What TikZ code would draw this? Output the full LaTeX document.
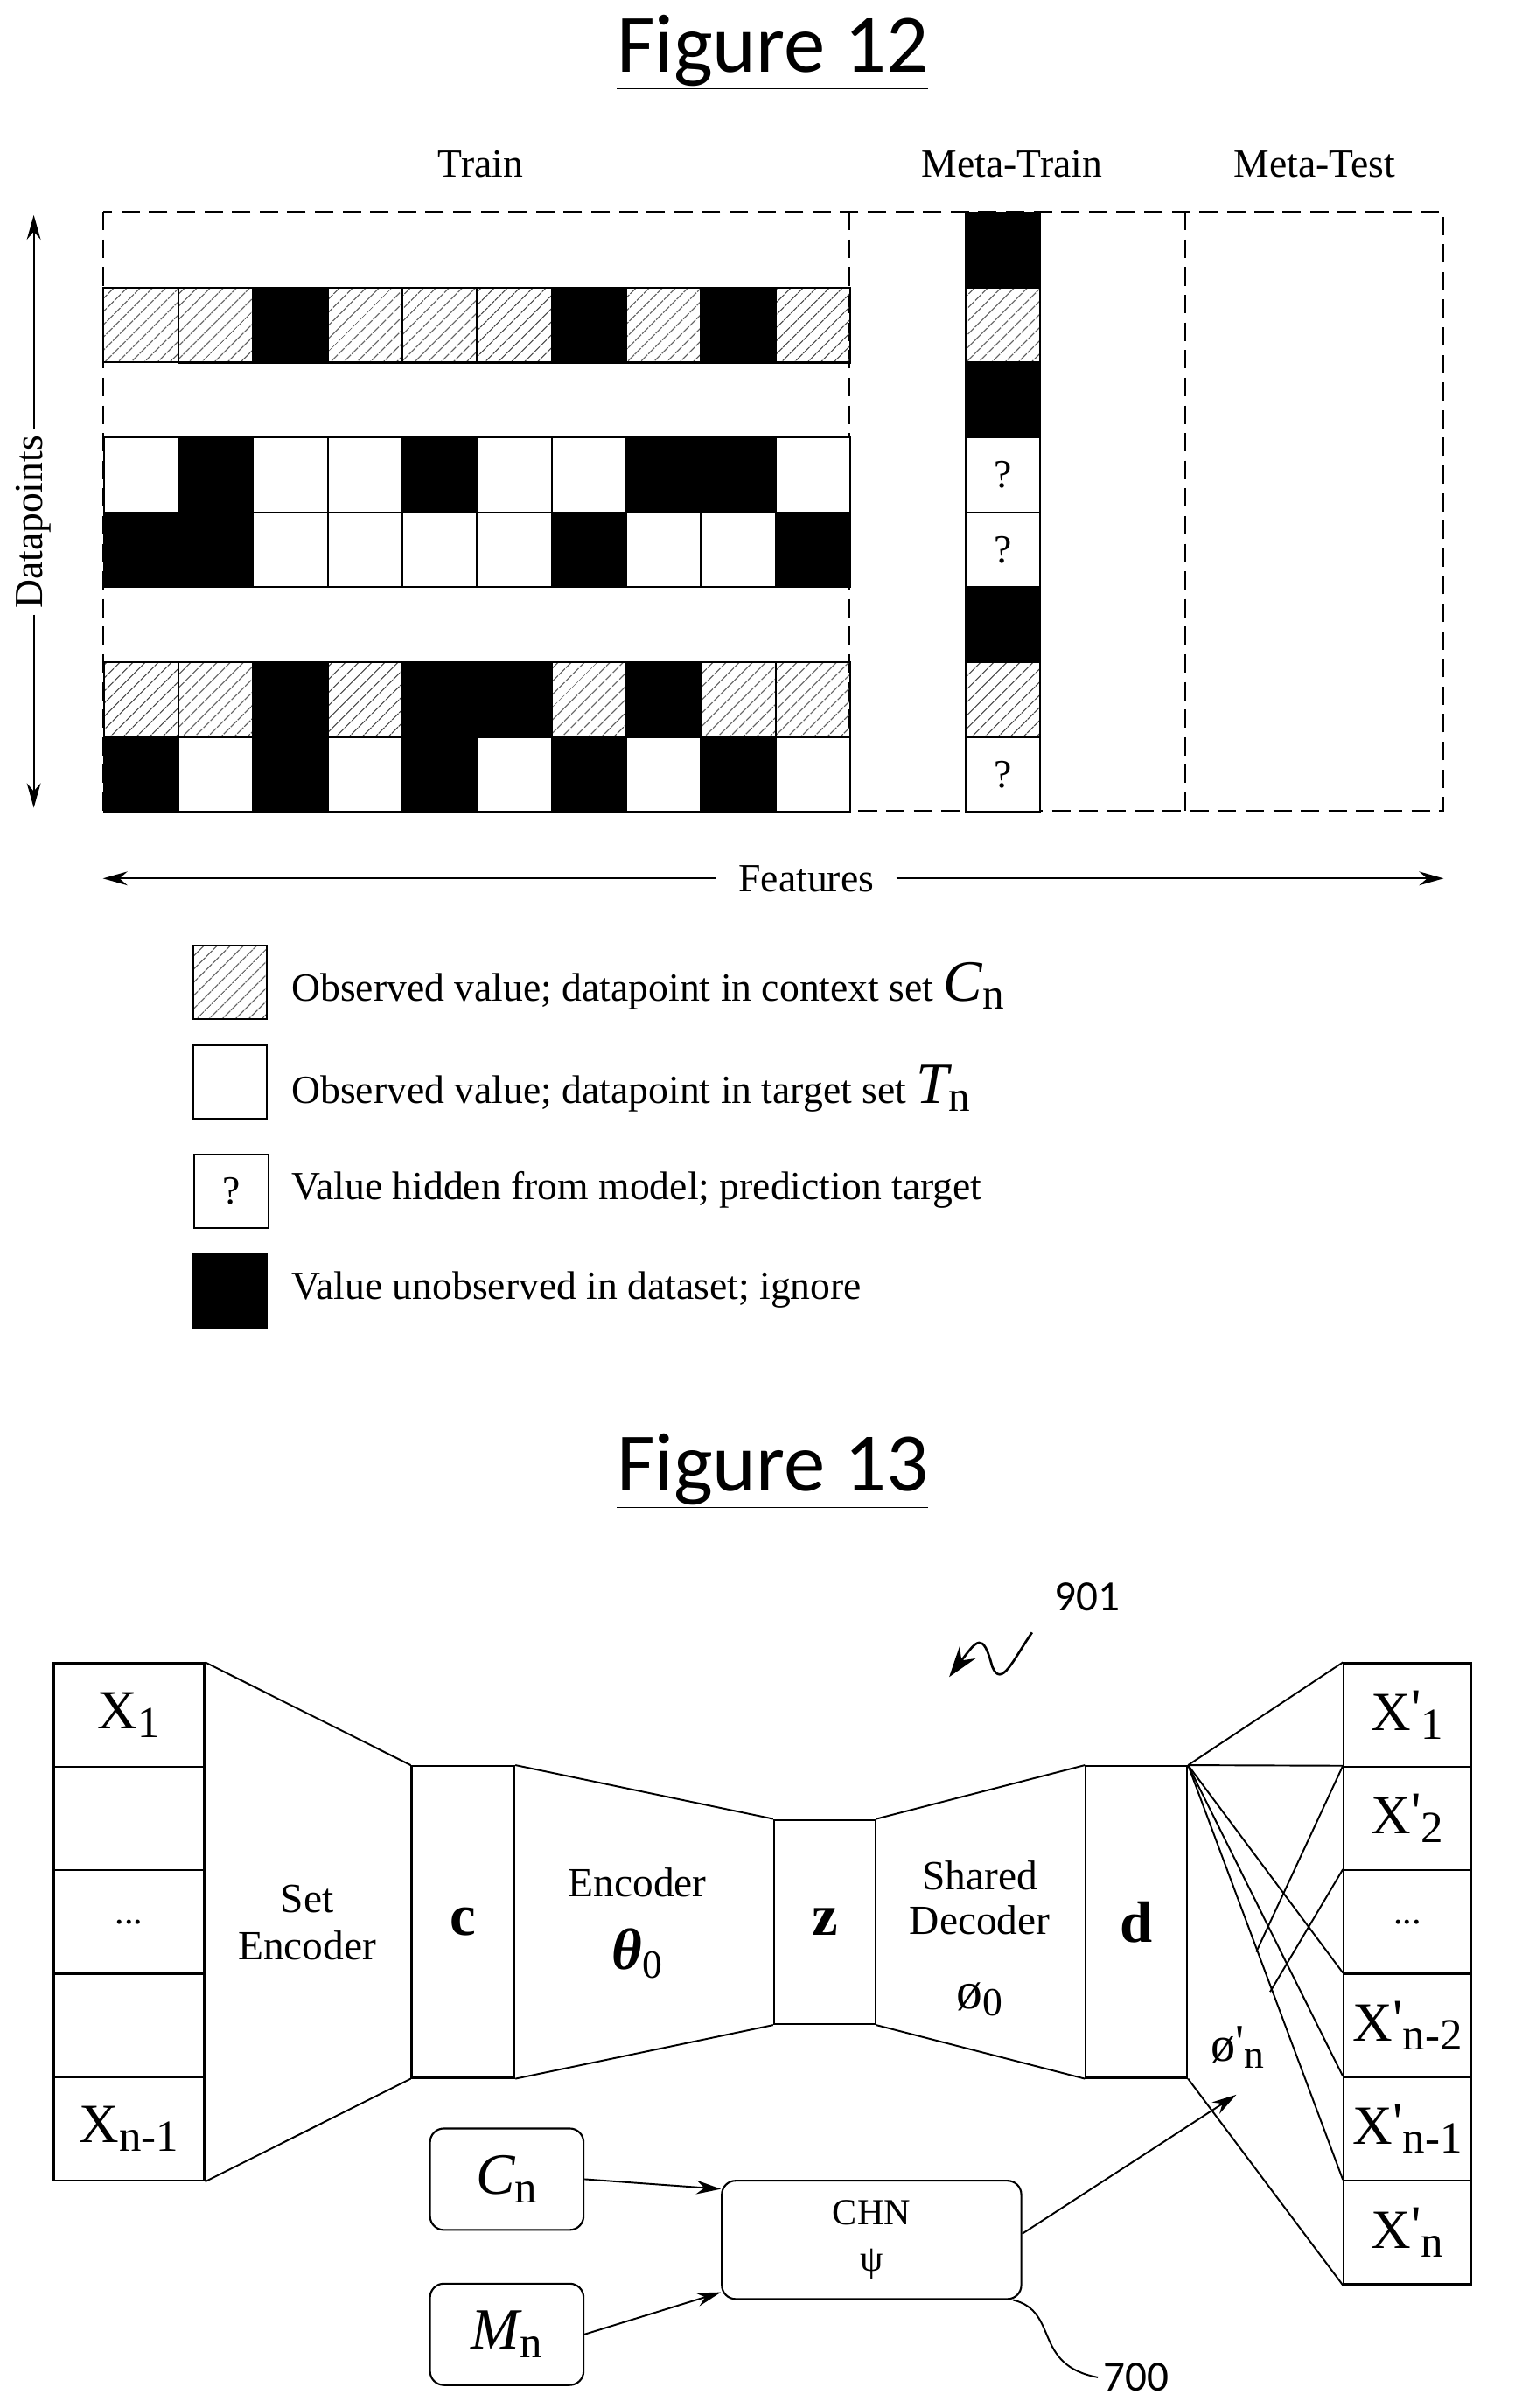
\documentclass[tikz,border=0pt]{standalone}
\usepackage{fontspec}
\setmainfont{Liberation Serif}
\newfontfamily\calib{Carlito}
\usetikzlibrary{patterns.meta,arrows.meta}

\newcommand{\fsz}[1]{\fontsize{#1}{#1}\selectfont}
\newcommand{\lowsub}[1]{\raisebox{-0.35ex}{\fsz{29}#1}}
\newcommand{\pr}{\raisebox{0.15ex}{\textquotesingle}}

\tikzset{
  cell/.style={draw,line width=1.2pt,minimum width=48.6pt,minimum height=48.75pt,inner sep=0pt,anchor=north west,font=\fsz{26}},
  cell h/.style={cell,pattern={Lines[angle=45,distance=6.5pt,line width=0.8pt]},pattern color=black!70},
  cell b/.style={cell,fill=black},
  cell w/.style={cell,fill=white},
  cell q/.style={cell,fill=white},
  lbl/.style={font=\fsz{26}},
  blk/.style={draw,line width=1.2pt,inner sep=0pt},
  xbox/.style={blk,minimum width=98pt,minimum height=67.4pt,font=\fsz{36}},
  ybox/.style={blk,minimum width=83pt,minimum height=67.4pt,font=\fsz{36}},
  rbox/.style={blk,rounded corners=9pt},
  arr/.style={-{Stealth[length=16pt,width=9pt]},line width=1.1pt},
}

\begin{document}
\begin{tikzpicture}[x=1pt,y=-1pt,line width=1.1pt]
\useasboundingbox (0,0) rectangle (1000,1568);

% Figure 12
\node[font=\calib\fsz{54}] (t12) at (503,34) {\underline{Figure 12}};
\node[lbl] (ltrain) at (313,107) {Train};
\node[lbl] (lmtrain) at (659,107) {Meta-Train};
\node[lbl] (lmtest) at (856,107) {Meta-Test};

\draw[dashed,dash pattern=on 12pt off 6pt,line width=1.1pt] (67,138) rectangle (940,528);
\draw[dashed,dash pattern=on 12pt off 6pt,line width=1.1pt] (553,138) -- (553,528);
\draw[dashed,dash pattern=on 12pt off 6pt,line width=1.1pt] (772,138) -- (772,528);

\foreach \t [count=\i from 0] in {h,h,b,h,h,h,b,h,b,h}
  \node[cell \t] (a\i) at (67+48.6*\i,186.75) {};
\foreach \t [count=\i from 0] in {w,b,w,w,b,w,w,b,b,w}
  \node[cell \t] (b\i) at (67+48.6*\i,284.25) {};
\foreach \t [count=\i from 0] in {b,b,w,w,w,w,b,w,w,b}
  \node[cell \t] (c\i) at (67+48.6*\i,333) {};
\foreach \t [count=\i from 0] in {h,h,b,h,b,b,h,b,h,h}
  \node[cell \t] (d\i) at (67+48.6*\i,430.5) {};
\foreach \t [count=\i from 0] in {b,w,b,w,b,w,b,w,b,w}
  \node[cell \t] (e\i) at (67+48.6*\i,479.25) {};
% meta-train column
\foreach \t [count=\i from 0] in {b,h,b,q,q,b,h,q}
  \node[cell \t] (m\i) at (628,138+48.75*\i) {\if\t q?\fi};

% axes
\node[lbl,rotate=90,fill=white] (dp) at (22,340) {Datapoints};
\coordinate (dptop) at (22,140);
\coordinate (dpbot) at (22,526);
\draw[arr] (dp.east) -- (dptop);
\draw[arr] (dp.west) -- (dpbot);
\node[lbl,inner xsep=14pt] (feat) at (525,572) {Features};
\coordinate (fleft) at (67,572);
\coordinate (fright) at (940,572);
\draw[arr] (feat.west) -- (fleft);
\draw[arr] (feat.east) -- (fright);

% legend
\node[cell h,minimum width=48pt,minimum height=48pt] (lg1) at (125,615) {};
\node[cell w,minimum width=48pt,minimum height=48pt] (lg2) at (125,680) {};
\node[cell q,minimum width=48pt,minimum height=48pt] (lg3) at (126,751) {?};
\node[cell b,minimum width=48pt,minimum height=48pt] (lg4) at (125,816) {};
\node[lbl,anchor=west] (tx1) at (186,642) {Observed value; datapoint in context set \fsz{38}\itshape C\raisebox{-0.3ex}{\fsz{28}\upshape n}};
\node[lbl,anchor=west] (tx2) at (186,709) {Observed value; datapoint in target set \fsz{38}\itshape T\raisebox{-0.3ex}{\fsz{28}\upshape n}};
\node[lbl,anchor=west] (tx3) at (186,775) {Value hidden from model; prediction target};
\node[lbl,anchor=west] (tx4) at (186,840) {Value unobserved in dataset; ignore};

% Figure 13
\node[font=\calib\fsz{54}] (t13) at (503,958) {\underline{Figure 13}};
\node[font=\calib\fsz{28}] (n901) at (708,1040) {901};
\coordinate (s901) at (672,1063);
\coordinate (e901) at (618,1092);
\draw[-{Stealth[length=20pt,width=13pt]},line width=1.5pt] (s901) .. controls (660,1080) and (652,1100) .. (646,1085)
  .. controls (640,1062) and (636,1068) .. (e901);

\foreach \k/\txt in {1/X\lowsub{1},2/,3/{\fsz{24}...},4/,5/X\lowsub{n-1}}
  \node[xbox] (L\k) at (84,1083+33.7+67.4*\k-67.4) {\txt};
\foreach \k/\txt in {1/X\pr\lowsub{1},2/X\pr\lowsub{2},3/{\fsz{24}...},4/X\pr\lowsub{n-2},5/X\pr\lowsub{n-1},6/X\pr\lowsub{n}}
  \node[ybox] (R\k) at (916.5,1083+33.7+67.4*\k-67.4) {\txt};

\node[blk,minimum width=67pt,minimum height=203pt,font=\bfseries\fsz{38}] (c) at (301.5,1251.5) {c};
\node[blk,minimum width=66pt,minimum height=133pt,font=\bfseries\fsz{38}] (z) at (537,1251.5) {z};
\node[blk,minimum width=66pt,minimum height=203pt,font=\bfseries\fsz{38}] (d) at (740,1251.5) {d};

\draw (L1.north east) -- (c.north west);
\draw (L5.south east) -- (c.south west);
\draw (c.north east) -- (z.north west);
\draw (c.south east) -- (z.south west);
\draw (z.north east) -- (d.north west);
\draw (z.south east) -- (d.south west);

\node[lbl,align=center,font=\fsz{27}] (setenc) at (200,1252) {Set\\[4pt]Encoder};
\node[lbl,font=\fsz{27}] (enc) at (415,1226) {Encoder};
\node[font=\fsz{38}] (theta) at (415,1272) {{\bfseries\itshape θ}\lowsub{\fsz{26}0}};
\node[lbl,align=center,font=\fsz{27}] (sdec) at (638,1236) {Shared\\[2pt]Decoder};
\node[font=\fsz{34}] (phi0) at (638,1302) {ø\raisebox{-0.3ex}{\fsz{26}0}};
\node[font=\fsz{32}] (phin) at (806,1333) {ø\pr\raisebox{-0.3ex}{\fsz{26}n}};

% decoder fan-out
\draw (d.north east) -- (R1.north west);
\draw (d.north east) -- (R2.north west);
\draw (d.north east) -- (R4.north west);
\draw (d.north east) -- (R5.north west);
\draw (d.north east) -- (R6.north west);
\draw (d.south east) -- (R6.south west);
\coordinate (k1) at (818,1271);
\coordinate (k2) at (827,1297);
\draw (k1) -- (R2.north west);
\draw (k2) -- (R3.north west);

% hypernetwork
\node[rbox,minimum width=100pt,minimum height=66pt,font=\fsz{38}] (cn) at (330,1419) {\itshape C\lowsub{\upshape n}};
\node[rbox,minimum width=100pt,minimum height=66pt,font=\fsz{38}] (mn) at (330,1520) {\itshape M\lowsub{\upshape n}};
\node[rbox,minimum width=195pt,minimum height=77pt,align=center,font=\fsz{24}] (chn) at (567.5,1458.5) {CHN\\[6pt]ψ};
\draw[arr] (cn.east) -- ([yshift=-6pt]chn.north west);
\draw[arr] (mn.east) -- ([yshift=5pt]chn.south west);
\coordinate (ptip) at (805,1364);
\draw[arr] ([yshift=4pt]chn.east) -- (ptip);

\node[font=\calib\fsz{28}] (n700) at (740,1548) {700};
\draw ([xshift=-6pt]chn.south east) .. controls (690,1505) and (672,1540) .. (n700.west);

\end{tikzpicture}
\end{document}
